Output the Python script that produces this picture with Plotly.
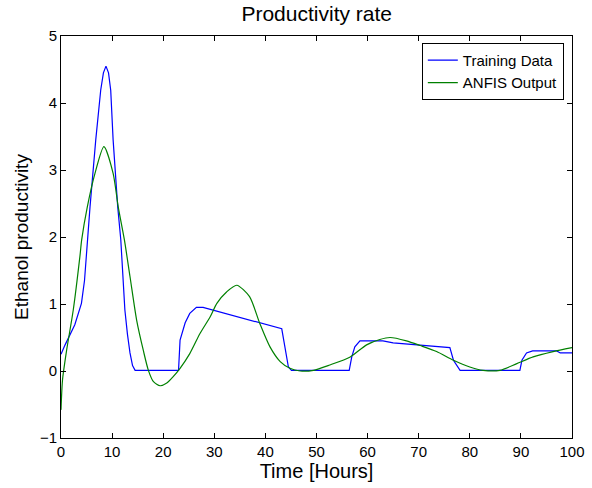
import plotly.graph_objects as go

# Training data (blue)
t_train = [0, 0.8, 2.7, 4.0, 4.6, 5.15, 5.68, 6.8, 7.77, 8.3, 8.8, 9.3, 9.73, 10.2, 11.1, 11.7, 12.1, 12.5, 13.0,
           13.5, 14.0, 14.5, 23.0, 23.3, 24.3, 25.2, 26.5, 27.8, 43.2, 44.5, 45.1, 56.4, 56.9, 57.5, 58.5,
           63.0, 65.0, 69.6, 73.5, 76.1, 76.8, 77.8, 78.1, 89.8, 90.2, 91.1, 92.3, 97.0, 97.7, 100]
y_train = [0.25, 0.39, 0.69, 1.01, 1.35, 1.96, 2.45, 3.45, 4.19, 4.45, 4.55, 4.45, 4.19, 3.45, 2.45, 1.96, 1.4, 0.91, 0.55,
           0.27, 0.08, 0.01, 0.01, 0.46, 0.72, 0.86, 0.95, 0.95, 0.63, 0.06, 0.01, 0.01, 0.21, 0.36, 0.45,
           0.45, 0.42, 0.39, 0.36, 0.35, 0.16, 0.04, 0.01, 0.01, 0.16, 0.27, 0.30, 0.30, 0.27, 0.27]

# ANFIS output (green)
t_anfis = [0, 0.3, 1.1, 2.4, 3.7, 4.05, 5.15, 6.65, 8.4, 10.2, 11.2, 12.4, 13.5, 14.8, 16.1, 17.1, 18.1, 19.4,
           20.7, 22.0, 23.3, 25.2, 27.2, 29.2, 30.5, 32.4, 34.4, 36.9, 38.9, 40.9, 42.9, 44.8, 46.8,
           49.4, 52.6, 56.6, 59.8, 62.4, 64.4, 67.6, 70.3, 73.5, 76.8, 80.0, 82.6, 85.9, 89.2, 92.4, 96.3, 100]
y_anfis = [-0.58, -0.13, 0.31, 0.91, 1.71, 1.96, 2.45, 2.95, 3.35, 2.95, 2.45, 1.96, 1.41, 0.76, 0.31, 0.01, -0.16, -0.22,
           -0.18, -0.08, 0.04, 0.26, 0.56, 0.81, 1.01, 1.18, 1.28, 1.11, 0.71, 0.36, 0.14, 0.04, 0.0,
           0.01, 0.09, 0.21, 0.39, 0.47, 0.50, 0.45, 0.38, 0.29, 0.16, 0.06, 0.01, 0.01, 0.11, 0.21, 0.29, 0.35]

x_ticks = [0, 10, 20, 30, 40, 50, 60, 70, 80, 90, 100]
y_ticks = [-1, 0, 1, 2, 3, 4, 5]

font = "Liberation Sans, Arial, sans-serif"

fig = go.Figure()
fig.add_trace(go.Scatter(x=t_train, y=y_train, mode="lines", name="Training Data",
                         line=dict(color="#0000ff", width=1.2)))
fig.add_trace(go.Scatter(x=t_anfis, y=y_anfis, mode="lines", name="ANFIS Output",
                         line=dict(color="#008000", width=1.2, shape="spline", smoothing=0.7)))

axis_common = dict(showline=True, linecolor="black", linewidth=1, mirror="ticks",
                   ticks="inside", ticklen=5, tickcolor="black", showgrid=False, zeroline=False,
                   automargin=False,
                   tickfont=dict(family=font, size=15, color="black"))

fig.update_layout(
    width=592, height=488,
    margin=dict(l=61, r=20, t=36, b=50, autoexpand=False),
    paper_bgcolor="white", plot_bgcolor="white",
    title=dict(text="Productivity rate", x=0.535, xanchor="center", y=0.972, yanchor="middle",
               font=dict(family=font, size=21, color="black")),
    xaxis=dict(range=[0, 100], tickvals=x_ticks,
               title=dict(text="Time [Hours]", font=dict(family=font, size=20, color="black"), standoff=2),
               **axis_common),
    yaxis=dict(range=[-1, 5], tickvals=y_ticks,
               title=dict(text="Ethanol productivity", font=dict(family=font, size=19, color="black"), standoff=6),
               **axis_common),
    legend=dict(x=0.984, y=0.983, xanchor="right", yanchor="top", bordercolor="black", borderwidth=1,
                bgcolor="white", font=dict(family=font, size=15, color="black"),
                tracegroupgap=0, itemwidth=30),
    showlegend=True,
)

fig.write_html("out.html")
